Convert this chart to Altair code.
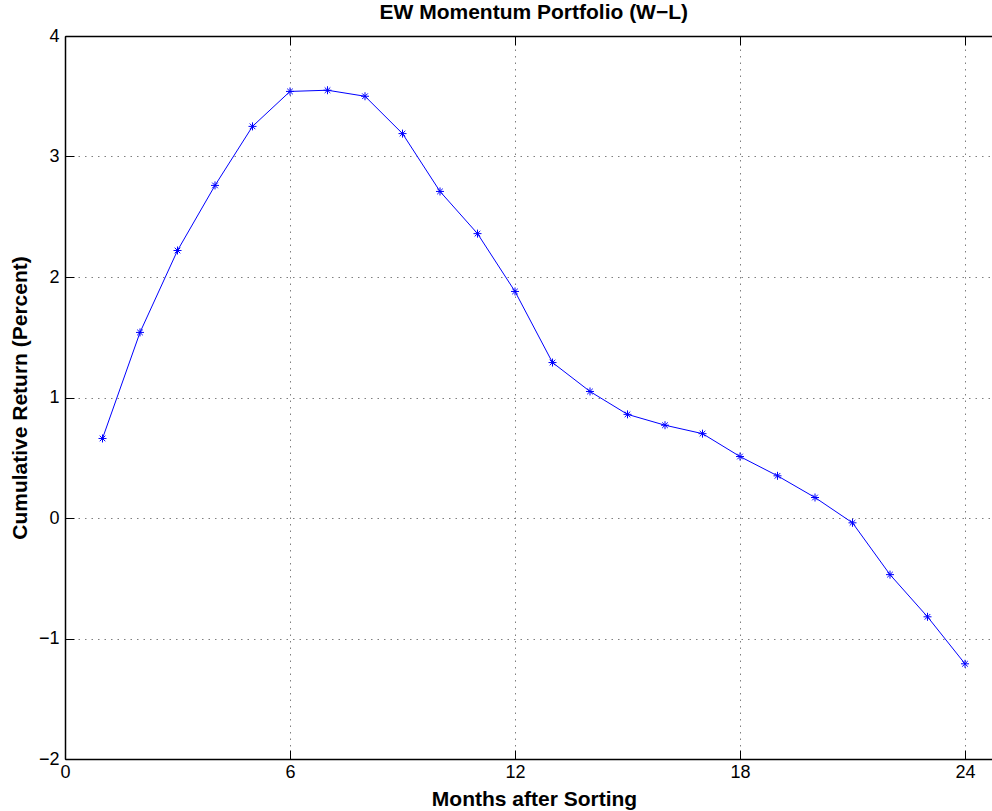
import altair as alt
import pandas as pd

months = list(range(1, 25))
cum_return = [0.66, 1.54, 2.22, 2.76, 3.25, 3.54, 3.55, 3.50, 3.19, 2.71, 2.36, 1.88,
              1.29, 1.05, 0.86, 0.77, 0.70, 0.51, 0.35, 0.17, -0.04, -0.47, -0.82, -1.21]

x_ticks = [0, 6, 12, 18, 24]
y_ticks = [-2, -1, 0, 1, 2, 3, 4]
title_text = ["EW Momentum Portfolio (W\u2212L)"]

df = pd.DataFrame({"month": months, "ret": cum_return})
tdf = pd.DataFrame({"t": title_text})

W, H = 927, 723
FONT = "Liberation Sans"
ASTERISK = "M-1,0L1,0M0,-1L0,1M-0.7,-0.7L0.7,0.7M-0.7,0.7L0.7,-0.7"

xs = alt.Scale(domain=[0, 24.72], nice=False, zero=False)
ys = alt.Scale(domain=[-2, 4], nice=False, zero=False)

grid_common = dict(gridColor="#7f7f7f", gridDash=[1.5, 5], gridWidth=1)

line = alt.Chart(df).mark_line(color="#0000ff", strokeWidth=1).encode(
    x=alt.X("month:Q", scale=xs, axis=alt.Axis(
        orient="bottom", values=x_ticks, title="Months after Sorting",
        titleFont=FONT, titleFontSize=21, titleFontWeight="bold", titleColor="#000",
        titleX=469, titleY=46, titleBaseline="alphabetic",
        labelFont=FONT, labelFontSize=18, labelColor="#000", labelPadding=4,
        labelFlush=False, labelOverlap=False,
        ticks=False, tickSize=0, domain=True, domainColor="#000", domainWidth=1.5,
        grid=True, **grid_common)),
    y=alt.Y("ret:Q", scale=ys, axis=alt.Axis(
        orient="left", values=y_ticks, title="Cumulative Return (Percent)",
        titleFont=FONT, titleFontSize=21, titleFontWeight="bold", titleColor="#000",
        titleX=-45, titleBaseline="middle",
        labelFont=FONT, labelFontSize=18, labelColor="#000", labelPadding=6,
        labelFlush=False, labelOverlap=False,
        ticks=False, tickSize=0, domain=True, domainColor="#000", domainWidth=1.5,
        grid=True, **grid_common)),
)

points = alt.Chart(df).mark_point(shape=ASTERISK, size=64, filled=False,
                                  color="#0000ff", strokeWidth=1, opacity=1).encode(
    x=alt.X("month:Q", scale=xs, axis=alt.Axis(
        orient="top", offset=-H, values=x_ticks, labels=False, title=None,
        ticks=True, tickSize=9, tickColor="#000", tickWidth=1,
        domain=False, grid=False)),
    y=alt.Y("ret:Q", scale=ys, axis=alt.Axis(
        orient="right", offset=-W, values=y_ticks, labels=False, title=None,
        ticks=True, tickSize=9, tickColor="#000", tickWidth=1,
        domain=False, grid=False)),
)

frame = alt.Chart(df).mark_point(opacity=0).encode(
    x=alt.X("month:Q", scale=xs, axis=alt.Axis(
        orient="bottom", offset=-H, values=x_ticks, labels=False, title=None,
        ticks=True, tickSize=9, tickColor="#000", tickWidth=1,
        domain=True, domainColor="#000", domainWidth=1.5, grid=False)),
    y=alt.Y("ret:Q", scale=ys, axis=None),
)

title = alt.Chart(tdf).mark_text(font=FONT, fontSize=21, fontWeight="bold",
                                 color="#000", align="center", baseline="alphabetic").encode(
    text="t:N", x=alt.value(468.75), y=alt.value(-17),
)

chart = alt.layer(line, points, frame, title).resolve_axis(
    x="independent", y="independent"
).properties(
    width=W, height=H,
    autosize=alt.AutoSizeParams(type="none"),
    padding={"left": 65, "top": 36, "right": 0, "bottom": 52},
    background="white",
).configure_view(stroke=None)

chart.save("out.html", embed_options={"renderer": "svg", "actions": False})
